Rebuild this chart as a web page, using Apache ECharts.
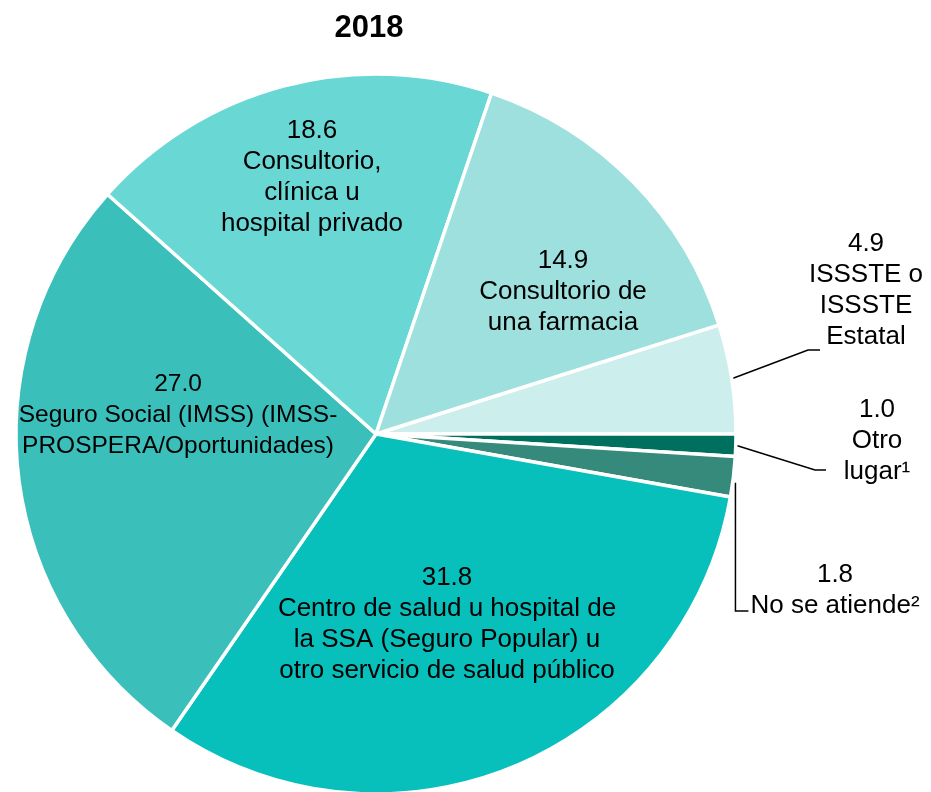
<!DOCTYPE html>
<html>
<head>
<meta charset="utf-8">
<script src="https://cdn.jsdelivr.net/npm/echarts@6/dist/echarts.min.js"></script>
<style>html,body{margin:0;padding:0;background:#fff}#c{width:931px;height:792px}</style>
</head>
<body>
<div id="c"></div>
<script>
// ---- data ----
var title = '2018';
var categories = [
  'ISSSTE o\nISSSTE\nEstatal',
  'Otro\nlugar\u00b9',
  'No se atiende\u00b2',
  'Centro de salud u hospital de\nla SSA (Seguro Popular) u\notro servicio de salud p\u00fablico',
  'Seguro Social (IMSS) (IMSS-\nPROSPERA/Oportunidades)',
  'Consultorio,\ncl\u00ednica u\nhospital privado',
  'Consultorio de\nuna farmacia'
];
var values = [4.9, 1.0, 1.8, 31.8, 27.0, 18.6, 14.9];

// ---- styling / layout ----
var colors = ['#CCEEEC', '#00705E', '#358A7B', '#07BFBB', '#3BBFBA', '#69D8D5', '#9DE0DD'];
var outside = [true, true, true, false, false, false, false];
var labelSizes = [26, 26, 26, 26, 24.5, 26, 26];
var labelCenters = [[866, 290], [877, 441], [835, 590], [447, 624], [178, 415], [312, 177], [563, 292]];

var chart = echarts.init(document.getElementById('c'));
var data = values.map(function (v, i) {
  return {
    value: v,
    name: categories[i],
    itemStyle: { color: colors[i] },
    label: { position: outside[i] ? 'outside' : 'inside', fontSize: labelSizes[i] },
    labelLine: { show: outside[i] }
  };
});

chart.setOption({
  animation: false,
  title: {
    text: title, left: 364, top: 8, textAlign: 'center',
    textStyle: { fontFamily: 'Liberation Sans', fontSize: 31, fontWeight: 'bold', color: '#000' }
  },
  series: [{
    type: 'pie',
    center: [376, 434],
    radius: [0, 360],
    startAngle: values[0] * 3.6,
    clockwise: true,
    avoidLabelOverlap: false,
    itemStyle: { borderColor: '#fff', borderWidth: 3.5 },
    label: {
      show: true,
      fontFamily: 'Liberation Sans',
      fontSize: 26,
      lineHeight: 31,
      color: '#000',
      align: 'center',
      formatter: function (p) { return p.value.toFixed(1) + '\n' + p.name; }
    },
    labelLine: { show: false, lineStyle: { color: '#000', width: 1.5 }, length: 20, length2: 10 },
    labelLayout: function (params) {
      var i = params.dataIndex;
      var c = labelCenters[i];
      var res = { x: c[0], y: c[1], align: 'center', verticalAlign: 'middle' };
      if (outside[i] && params.labelLinePoints) {
        var p0 = params.labelLinePoints[0];
        var x = c[0], y = c[1];
        if (i === 0) {
          res.labelLinePoints = [p0, [x - 58, y + 60], [x - 46, y + 60]];
        } else if (i === 1) {
          res.labelLinePoints = [p0, [x - 62, y + 29], [x - 51, y + 29]];
        } else {
          res.labelLinePoints = [[p0[0] + 2, p0[1] + 6], [p0[0] + 2, y + 21], [p0[0] + 15, y + 21]];
        }
      }
      return res;
    },
    data: data
  }]
});
</script>
</body>
</html>
